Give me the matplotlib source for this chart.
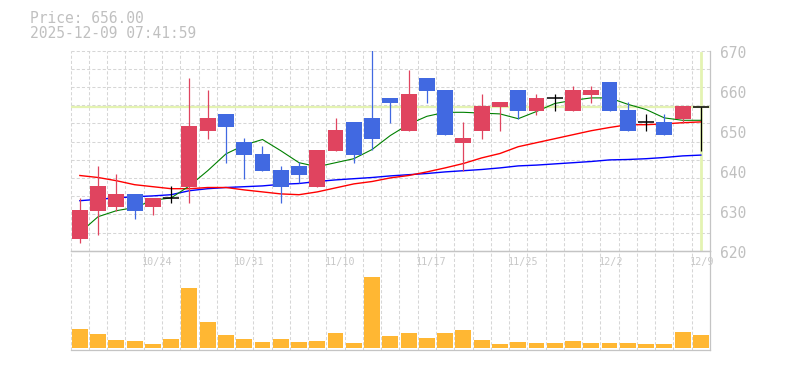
import matplotlib
matplotlib.use("Agg")
import matplotlib.pyplot as plt
import matplotlib.transforms as mtrans
import numpy as np

# ---------------- data ----------------
dates = ["10/20", "10/21", "10/22", "10/23", "10/24", "10/27", "10/28", "10/29", "10/30", "10/31",
         "11/4", "11/5", "11/6", "11/7", "11/10", "11/11", "11/12", "11/13", "11/14", "11/17",
         "11/18", "11/19", "11/20", "11/21", "11/25", "11/26", "11/27", "11/28", "12/1", "12/2",
         "12/3", "12/4", "12/5", "12/8", "12/9"]
opens = [622.9, 629.9, 631.0, 634.2, 631.0, 633.2, 636.0, 650.0, 654.2, 647.2,
         644.2, 640.2, 641.2, 636.0, 645.0, 652.2, 653.2, 658.2, 650.0, 663.2,
         660.2, 647.0, 650.0, 656.0, 660.2, 655.0, 658.2, 655.0, 659.0, 662.2,
         655.2, 652.2, 652.2, 653.0, 656.0]
highs = [633.2, 641.2, 639.2, 634.2, 633.2, 636.2, 663.2, 660.2, 654.2, 648.2,
         646.2, 641.2, 642.2, 645.2, 653.2, 652.2, 671.0, 658.2, 665.2, 663.2,
         660.2, 652.2, 659.2, 657.2, 660.2, 659.2, 659.2, 661.2, 661.2, 662.2,
         657.2, 654.2, 654.2, 656.2, 656.0]
lows = [622.0, 624.0, 630.0, 628.0, 629.0, 632.0, 632.0, 648.0, 642.0, 638.0,
        640.0, 632.0, 637.0, 636.0, 645.0, 642.0, 645.3, 652.0, 650.0, 657.0,
        649.0, 640.0, 648.0, 650.0, 653.0, 654.0, 655.0, 655.0, 657.0, 655.0,
        650.0, 650.0, 649.0, 652.0, 645.0]
closes = [630.2, 636.2, 634.2, 629.9, 633.2, 633.2, 651.2, 653.2, 651.0, 644.0,
          640.0, 636.0, 639.0, 645.2, 650.2, 644.0, 648.0, 657.0, 659.2, 660.0,
          649.0, 648.2, 656.2, 657.2, 655.0, 658.2, 658.2, 660.2, 660.2, 655.0,
          650.0, 652.2, 649.0, 656.2, 656.0]
ma_short = [624.5, 628.5, 630.0, 630.8, 632.6, 633.2, 636.2, 640.0, 644.2, 646.4,
            647.8, 645.0, 642.0, 641.0, 642.0, 643.0, 645.3, 648.8, 651.6, 653.6,
            654.6, 654.6, 654.4, 654.2, 653.0, 654.8, 656.8, 657.6, 658.2, 658.2,
            656.6, 655.3, 653.2, 652.6, 652.6]
ma_mid = [638.8, 638.3, 637.5, 636.5, 636.0, 635.5, 635.5, 635.8, 635.8, 635.2,
          634.7, 634.2, 634.0, 634.7, 635.7, 636.7, 637.3, 638.2, 638.8, 639.7,
          640.7, 641.8, 643.2, 644.3, 646.0, 647.0, 648.0, 649.0, 650.0, 650.8,
          651.5, 651.5, 651.7, 652.0, 652.2]
ma_long = [632.5, 632.85, 633.2, 633.5, 633.7, 634.0, 635.0, 635.5, 635.8, 636.0,
           636.2, 636.6, 636.8, 637.3, 637.7, 638.0, 638.3, 638.7, 639.0, 639.3,
           639.7, 640.0, 640.3, 640.7, 641.2, 641.4, 641.7, 642.0, 642.3, 642.7,
           642.8, 643.0, 643.3, 643.7, 643.9]
volumes = [190, 140, 80, 70, 40, 90, 600, 260, 130, 90,
           60, 90, 60, 70, 150, 50, 710, 120, 150, 100,
           150, 180, 80, 40, 60, 50, 50, 70, 50, 50,
           50, 40, 40, 160, 130]
last_price = 656.00
timestamp = "2025-12-09 07:41:59"
y_ticks = [620, 630, 640, 650, 660, 670]
label_idx = [4, 9, 14, 19, 24, 29, 34]

# ---------------- style ----------------
UP = "#e0445f"
DOWN = "#4169e1"
FLAT = "#000000"
VOLC = "#ffb733"
GRID = "#d6d6d6"
SPINE = "#c4c4c4"
TXT = "#c0c0c0"
HL = "#e4f3b2"
MONO = "DejaVu Sans Mono"

W, H = 785, 370
fig = plt.figure(figsize=(W / 100, H / 100), dpi=100)
fig.patch.set_facecolor("white")

L, R = 70.7, 710.0
PT, PB = 50.7, 250.7
VB = 350.0
ax = fig.add_axes([L / W, (H - PB) / H, (R - L) / W, (PB - PT) / H])
axv = fig.add_axes([L / W, (H - VB) / H, (R - L) / W, (VB - PB) / H])

n = len(dates)
x = np.arange(n)
o = np.array(opens); c = np.array(closes); hi = np.array(highs); lo = np.array(lows)

for a in (ax, axv):
    a.set_xlim(-0.5, n - 0.5)
    a.set_xticks([]); a.set_yticks([])
    a.set_facecolor("none")
    a.spines["left"].set_visible(False)
    for s in ("right", "bottom", "top"):
        a.spines[s].set_color(SPINE)
        a.spines[s].set_linewidth(0.9)
ax.spines["top"].set_visible(False)
ax.set_ylim(620, 670)
axv.set_ylim(-20, 973)

gkw = dict(colors=GRID, linewidth=0.75, linestyles=(0, (3, 2)), zorder=0.5, clip_on=False)
bounds = np.arange(-0.5, n - 1, 1.0)
ax.vlines(bounds, 620, 670, **gkw)
hy = 620 + np.arange(1, 12) * 50 / 11
ax.hlines(hy, -0.5, n - 0.5, **gkw)
axv.vlines(bounds, -20, 973, **gkw)

# current price lines
ax.axhline(last_price, color=HL, lw=1.6, zorder=1.5)
ax.axvline(x[-1], ymin=0.01, ymax=0.99, color=HL, lw=2.0, zorder=1.5)

# moving averages
ax.plot(x, ma_long, color="#0000ff", lw=1.0, zorder=2)
ax.plot(x, ma_mid, color="#ff0000", lw=1.0, zorder=2)
ax.plot(x, ma_short, color="#008000", lw=0.8, zorder=2)

# candles
bw = 0.87
colors = [UP if cc > oo else (DOWN if cc < oo else FLAT) for oo, cc in zip(o, c)]
ax.vlines(x, lo, np.minimum(hi, 670.5), colors=colors, lw=0.9, zorder=3)
body = np.abs(c - o)
mask = body > 0
ax.bar(x[mask], body[mask], bottom=np.minimum(o, c)[mask], width=bw,
       color=np.array(colors)[mask], linewidth=0, zorder=4)
flat = ~mask
ax.hlines(o[flat], x[flat] - bw / 2, x[flat] + bw / 2, colors=FLAT, lw=1.1, zorder=4)

# volume
axv.bar(x, volumes, width=bw, color=VOLC, linewidth=0, zorder=3)

# y labels
for v in y_ticks:
    tr = mtrans.blended_transform_factory(ax.transAxes, ax.transData) + \
        mtrans.ScaledTranslation(0.10, -0.025, fig.dpi_scale_trans)
    ax.text(1, v, str(v), transform=tr, ha="left", va="center", family=MONO,
            fontsize=10.5, color=TXT, clip_on=False)

# x labels
for i in label_idx:
    tr = mtrans.blended_transform_factory(axv.transData, axv.transAxes) + \
        mtrans.ScaledTranslation(-0.015, -0.113, fig.dpi_scale_trans)
    axv.text(i - 0.5, 1, dates[i], transform=tr, ha="left", va="center", family=MONO,
             fontsize=7.3, color="#c8c8c8", clip_on=False)

fig.text(30 / W, 1 - 23.3 / H, f"Price: {last_price:.2f}", va="baseline", ha="left",
         family=MONO, fontsize=10.5, color=TXT)
fig.text(30 / W, 1 - 38.3 / H, timestamp, va="baseline", ha="left",
         family=MONO, fontsize=10.5, color=TXT)

fig.savefig("out.png", dpi=100)
